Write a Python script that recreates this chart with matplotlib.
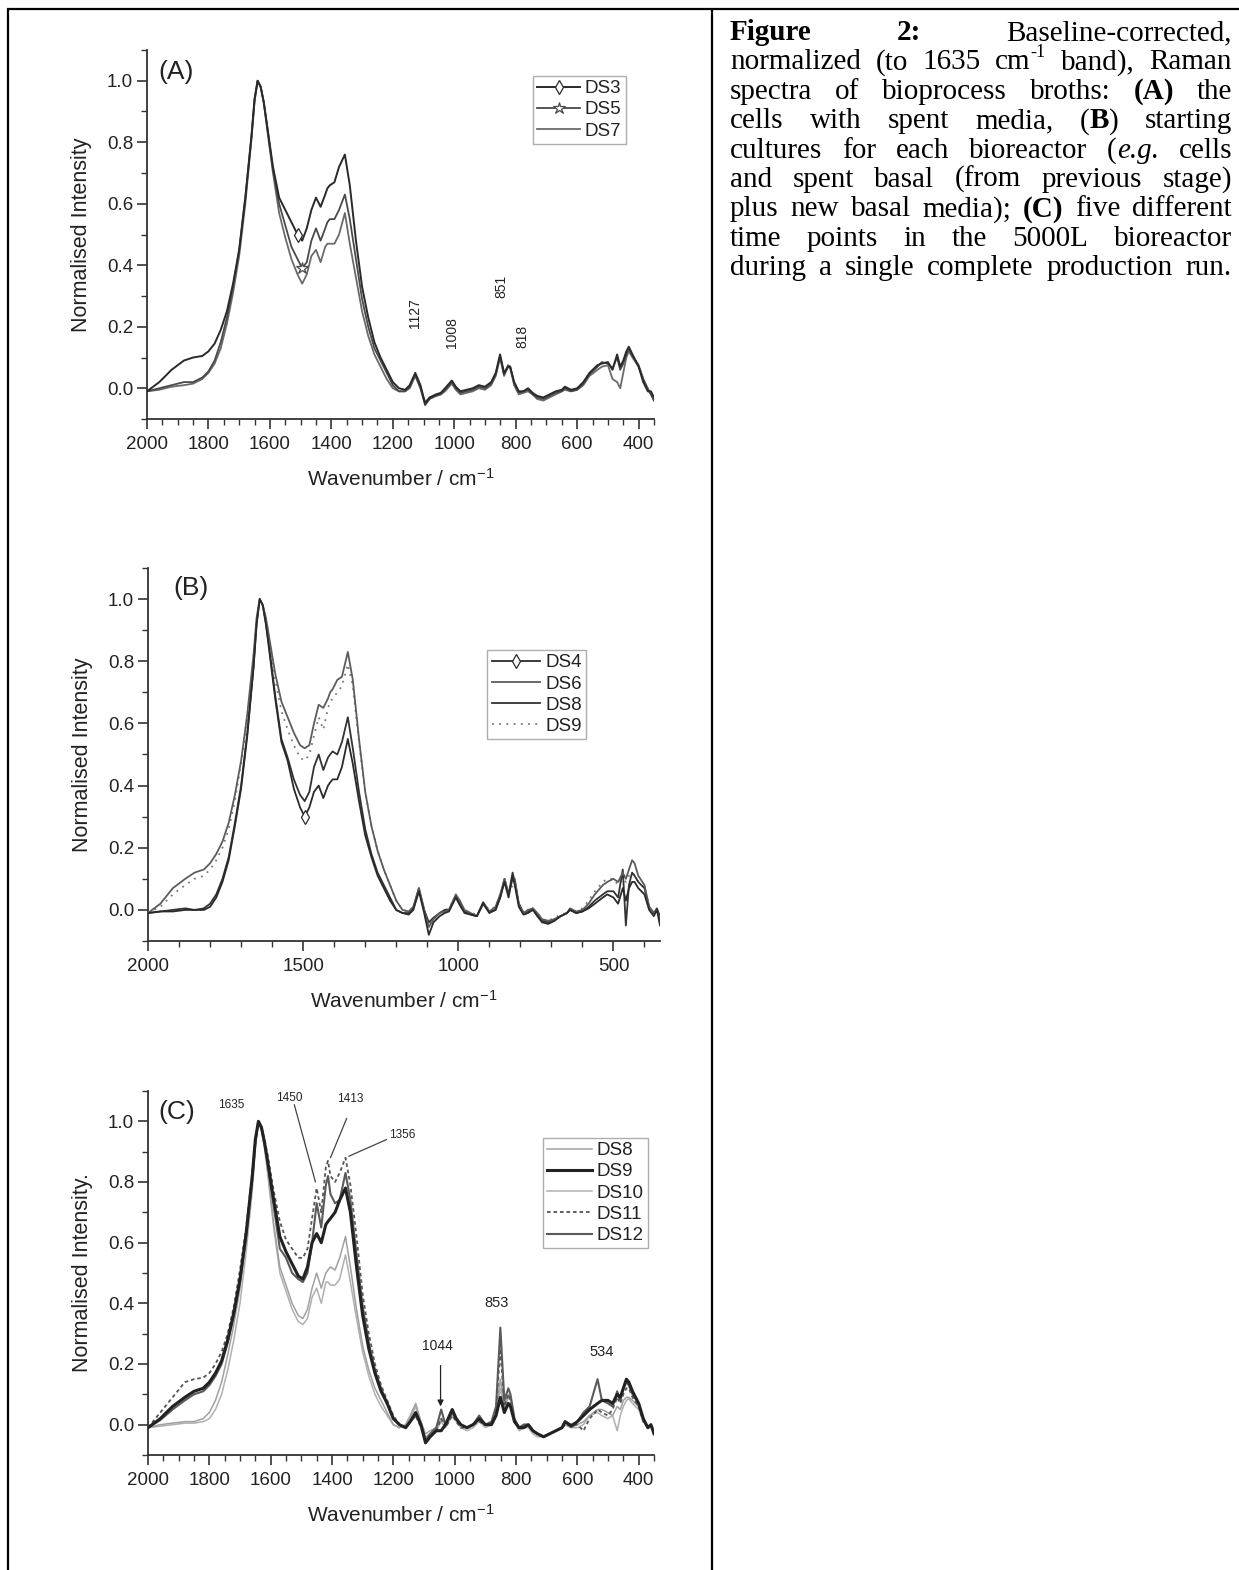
import numpy as np
import matplotlib
matplotlib.use("Agg")
import matplotlib.pyplot as plt
from matplotlib.ticker import MultipleLocator
from matplotlib.transforms import IdentityTransform
from matplotlib.lines import Line2D

plt.rcParams['font.family'] = ['Liberation Sans', 'DejaVu Sans']
plt.rcParams['mathtext.fontset'] = 'custom'
plt.rcParams['mathtext.rm'] = 'Liberation Sans'
plt.rcParams['mathtext.it'] = 'Liberation Sans:italic'
plt.rcParams['mathtext.bf'] = 'Liberation Sans:bold'

# ---------------- data ----------------
wavenumber = [2000, 1960, 1920, 1880, 1850, 1820, 1800, 1780, 1760, 1740,
              1720, 1700, 1680, 1660, 1650, 1640, 1630, 1620, 1610, 1590,
              1570, 1550, 1530, 1510, 1495, 1480, 1465, 1450, 1435, 1420,
              1413, 1405, 1390, 1375, 1356, 1340, 1320, 1300, 1280, 1260,
              1240, 1220, 1200, 1180, 1160, 1145, 1127, 1110, 1095, 1080,
              1060, 1044, 1030, 1008, 995, 980, 960, 940, 920, 900,
              880, 865, 851, 838, 825, 818, 805, 790, 775, 760,
              745, 730, 710, 690, 670, 650, 640, 620, 600, 580,
              560, 534, 520, 500, 485, 470, 460, 450, 440, 432,
              420, 400, 385, 370, 360, 350]

# Panel A
A_DS3 = [-0.01, 0.02, 0.06, 0.09, 0.10, 0.105, 0.12, 0.145, 0.19, 0.25,
         0.34, 0.45, 0.62, 0.82, 0.94, 1.0, 0.98, 0.93, 0.86, 0.72,
         0.62, 0.58, 0.54, 0.50, 0.48, 0.52, 0.58, 0.62, 0.59, 0.63,
         0.65, 0.66, 0.67, 0.72, 0.76, 0.66, 0.48, 0.33, 0.23, 0.15,
         0.10, 0.06, 0.02, 0.0, -0.005, 0.01, 0.05, 0.01, -0.05, -0.03,
         -0.02, -0.015, 0.0, 0.025, 0.005, -0.01, -0.005, 0.0, 0.01, 0.005,
         0.02, 0.05, 0.11, 0.05, 0.07, 0.07, 0.02, -0.01, -0.01, 0.0,
         -0.015, -0.025, -0.03, -0.02, -0.01, -0.005, 0.005, -0.005, 0.0, 0.02,
         0.05, 0.075, 0.08, 0.085, 0.06, 0.11, 0.07, 0.09, 0.12, 0.135,
         0.11, 0.07, 0.02, -0.01, -0.01, -0.03]
A_DS5 = [-0.01, 0.0, 0.01, 0.02, 0.02, 0.035, 0.055, 0.09, 0.15, 0.23,
         0.33, 0.45, 0.62, 0.82, 0.94, 1.0, 0.98, 0.93, 0.86, 0.71,
         0.60, 0.53, 0.46, 0.42, 0.39, 0.41, 0.48, 0.52, 0.48, 0.52,
         0.54, 0.55, 0.55, 0.58, 0.63, 0.55, 0.42, 0.29, 0.20, 0.13,
         0.09, 0.05, 0.01, -0.01, -0.01, 0.005, 0.045, 0.0, -0.055, -0.035,
         -0.025, -0.02, -0.005, 0.02, 0.0, -0.015, -0.01, -0.005, 0.005, 0.0,
         0.015, 0.045, 0.105, 0.045, 0.075, 0.07, 0.015, -0.015, -0.01, -0.005,
         -0.02, -0.03, -0.035, -0.025, -0.015, -0.01, 0.0, -0.01, -0.005, 0.015,
         0.045, 0.07, 0.085, 0.08, 0.065, 0.10, 0.06, 0.08, 0.11, 0.13,
         0.105, 0.075, 0.03, -0.005, -0.02, -0.04]
A_DS7 = [-0.01, -0.005, 0.005, 0.01, 0.015, 0.03, 0.05, 0.08, 0.13, 0.21,
         0.31, 0.43, 0.60, 0.81, 0.93, 1.0, 0.98, 0.93, 0.85, 0.70,
         0.57, 0.49, 0.42, 0.37, 0.34, 0.37, 0.43, 0.45, 0.41, 0.46,
         0.47, 0.47, 0.47, 0.50, 0.57, 0.47, 0.36, 0.25, 0.17, 0.11,
         0.07, 0.03, 0.0, -0.01, -0.01, 0.0, 0.04, 0.0, -0.045, -0.03,
         -0.025, -0.02, -0.01, 0.015, -0.005, -0.02, -0.015, -0.01, 0.0, -0.005,
         0.01, 0.04, 0.10, 0.04, 0.07, 0.065, 0.01, -0.02, -0.015, -0.01,
         -0.02, -0.035, -0.04, -0.03, -0.02, -0.01, -0.005, -0.01, -0.005, 0.01,
         0.04, 0.06, 0.07, 0.075, 0.03, 0.02, 0.0, 0.05, 0.10, 0.12,
         0.10, 0.07, 0.03, 0.0, -0.02, -0.04]

# Panel B
B_DS4 = [-0.01, -0.005, -0.005, 0.0, 0.0, 0.0, 0.01, 0.04, 0.09, 0.16,
         0.27, 0.39, 0.56, 0.78, 0.92, 1.0, 0.98, 0.92, 0.84, 0.68,
         0.54, 0.48, 0.39, 0.33, 0.30, 0.33, 0.38, 0.40, 0.36, 0.40,
         0.41, 0.42, 0.42, 0.46, 0.55, 0.47, 0.35, 0.24, 0.17, 0.11,
         0.07, 0.03, 0.0, -0.01, -0.015, 0.0, 0.06, -0.01, -0.08, -0.04,
         -0.02, -0.01, -0.005, 0.04, 0.015, -0.01, -0.015, -0.02, 0.02, -0.01,
         0.0, 0.04, 0.09, 0.04, 0.11, 0.08, 0.01, -0.015, -0.01, 0.0,
         -0.02, -0.04, -0.045, -0.035, -0.02, -0.01, 0.0, -0.01, -0.005, 0.005,
         0.02, 0.04, 0.05, 0.04, 0.02, 0.07, 0.03, 0.07, 0.09, 0.09,
         0.07, 0.05, 0.0, -0.02, 0.0, -0.05]
B_DS6 = [-0.01, 0.02, 0.07, 0.10, 0.12, 0.13, 0.15, 0.18, 0.22, 0.28,
         0.37, 0.48, 0.63, 0.82, 0.94, 1.0, 0.98, 0.94, 0.88, 0.76,
         0.67, 0.62, 0.57, 0.53, 0.52, 0.53, 0.60, 0.66, 0.65, 0.68,
         0.70, 0.71, 0.74, 0.75, 0.83, 0.74, 0.55, 0.38, 0.27, 0.19,
         0.13, 0.08, 0.03, 0.0, -0.005, 0.01, 0.07, 0.0, -0.055, -0.03,
         -0.01, -0.005, 0.0, 0.05, 0.03, 0.0, -0.01, -0.02, 0.02, -0.005,
         0.01, 0.05, 0.10, 0.05, 0.10, 0.10, 0.02, -0.01, 0.0, 0.005,
         -0.01, -0.03, -0.035, -0.03, -0.02, -0.01, 0.005, -0.005, 0.0, 0.02,
         0.05, 0.08, 0.09, 0.10, 0.09, 0.12, 0.10, 0.13, 0.16, 0.15,
         0.11, 0.08, 0.01, -0.01, 0.0, -0.03]
B_DS8 = [-0.01, -0.005, 0.0, 0.005, 0.0, 0.005, 0.02, 0.05, 0.10, 0.17,
         0.28, 0.40, 0.57, 0.78, 0.92, 1.0, 0.98, 0.92, 0.85, 0.69,
         0.55, 0.49, 0.42, 0.37, 0.35, 0.38, 0.46, 0.50, 0.45, 0.49,
         0.50, 0.51, 0.50, 0.54, 0.62, 0.52, 0.38, 0.26, 0.18, 0.12,
         0.08, 0.04, 0.0, -0.01, -0.01, 0.005, 0.07, 0.0, -0.04, -0.025,
         -0.01, 0.0, 0.0, 0.045, 0.02, -0.005, -0.015, -0.02, 0.025, -0.005,
         0.0, 0.04, 0.10, 0.05, 0.12, 0.09, 0.02, -0.01, -0.005, 0.005,
         -0.02, -0.035, -0.04, -0.03, -0.02, -0.01, 0.0, -0.01, -0.005, 0.01,
         0.03, 0.05, 0.06, 0.06, 0.04, 0.13, -0.05, 0.08, 0.12, 0.11,
         0.09, 0.07, 0.01, -0.01, 0.005, -0.02]
B_DS9 = [-0.01, 0.01, 0.05, 0.08, 0.10, 0.11, 0.13, 0.16, 0.20, 0.26,
         0.35, 0.47, 0.62, 0.81, 0.93, 1.0, 0.98, 0.93, 0.87, 0.74,
         0.64, 0.58, 0.53, 0.49, 0.48, 0.50, 0.56, 0.62, 0.58, 0.65,
         0.67, 0.68, 0.70, 0.72, 0.79, 0.72, 0.54, 0.38, 0.27, 0.19,
         0.13, 0.08, 0.03, 0.0, -0.005, 0.01, 0.06, 0.0, -0.05, -0.03,
         -0.01, 0.0, 0.005, 0.045, 0.025, 0.0, -0.01, -0.015, 0.02, 0.0,
         0.01, 0.05, 0.09, 0.05, 0.08, 0.09, 0.02, -0.01, 0.0, 0.005,
         -0.01, -0.03, -0.035, -0.025, -0.015, -0.01, 0.005, -0.005, 0.005, 0.03,
         0.06, 0.09, 0.10, 0.10, 0.08, 0.10, 0.09, 0.11, 0.12, 0.11,
         0.09, 0.07, 0.01, -0.01, 0.0, -0.02]

# Panel C
C_DS8 = [-0.01, 0.0, 0.005, 0.01, 0.01, 0.02, 0.04, 0.08, 0.14, 0.23,
         0.33, 0.45, 0.61, 0.80, 0.93, 1.0, 0.97, 0.92, 0.84, 0.66,
         0.52, 0.46, 0.40, 0.36, 0.35, 0.38, 0.45, 0.50, 0.45, 0.50,
         0.51, 0.52, 0.51, 0.55, 0.62, 0.52, 0.38, 0.26, 0.18, 0.12,
         0.08, 0.04, 0.0, -0.01, 0.0, 0.03, 0.07, 0.01, -0.03, -0.02,
         -0.01, 0.02, 0.0, 0.04, 0.02, 0.0, -0.01, 0.0, 0.02, 0.0,
         0.0, 0.04, 0.15, 0.06, 0.10, 0.09, 0.02, -0.01, 0.0, 0.0,
         -0.02, -0.03, -0.04, -0.03, -0.02, -0.01, 0.0, -0.01, 0.0, 0.01,
         0.03, 0.05, 0.05, 0.04, 0.03, 0.06, 0.05, 0.08, 0.09, 0.09,
         0.08, 0.06, 0.01, -0.01, 0.0, -0.03]
C_DS9 = [-0.01, 0.02, 0.06, 0.09, 0.11, 0.12, 0.14, 0.17, 0.21, 0.28,
         0.37, 0.48, 0.63, 0.82, 0.94, 1.0, 0.98, 0.93, 0.87, 0.74,
         0.62, 0.57, 0.53, 0.49, 0.48, 0.52, 0.60, 0.63, 0.60, 0.66,
         0.67, 0.68, 0.70, 0.74, 0.78, 0.70, 0.52, 0.36, 0.25, 0.17,
         0.11, 0.07, 0.02, 0.0, -0.01, 0.01, 0.04, 0.0, -0.06, -0.04,
         -0.02, -0.02, 0.0, 0.05, 0.02, 0.0, -0.01, 0.0, 0.02, 0.0,
         0.0, 0.03, 0.09, 0.04, 0.07, 0.06, 0.01, -0.01, -0.01, 0.0,
         -0.02, -0.03, -0.04, -0.03, -0.02, -0.01, 0.01, -0.005, 0.01, 0.03,
         0.05, 0.07, 0.08, 0.08, 0.07, 0.10, 0.09, 0.12, 0.15, 0.14,
         0.11, 0.07, 0.02, -0.01, 0.0, -0.03]
C_DS10 = [-0.01, -0.005, 0.0, 0.005, 0.005, 0.01, 0.02, 0.05, 0.10, 0.18,
          0.28, 0.40, 0.57, 0.77, 0.91, 1.0, 0.97, 0.91, 0.83, 0.65,
          0.50, 0.44, 0.38, 0.34, 0.33, 0.35, 0.42, 0.45, 0.40, 0.47,
          0.47, 0.46, 0.46, 0.48, 0.56, 0.47, 0.35, 0.24, 0.16, 0.10,
          0.06, 0.03, 0.0, -0.01, 0.0, 0.02, 0.06, 0.0, -0.04, -0.03,
          -0.02, 0.01, -0.01, 0.03, 0.01, -0.01, -0.02, -0.01, 0.01, -0.01,
          0.0, 0.03, 0.12, 0.05, 0.09, 0.08, 0.01, -0.02, -0.01, -0.01,
          -0.03, -0.04, -0.04, -0.03, -0.02, -0.01, 0.0, -0.01, -0.01, 0.0,
          0.03, 0.04, 0.03, 0.02, 0.03, -0.02, 0.03, 0.06, 0.08, 0.085,
          0.07, 0.05, 0.01, -0.01, 0.0, -0.03]
C_DS11 = [-0.01, 0.04, 0.09, 0.14, 0.15, 0.155, 0.17, 0.20, 0.24, 0.30,
          0.39, 0.51, 0.65, 0.83, 0.94, 1.0, 0.98, 0.94, 0.89, 0.77,
          0.67, 0.61, 0.58, 0.55, 0.55, 0.58, 0.68, 0.78, 0.70, 0.85,
          0.87, 0.82, 0.80, 0.83, 0.88, 0.79, 0.62, 0.43, 0.30, 0.20,
          0.13, 0.08, 0.03, 0.0, -0.01, 0.01, 0.03, -0.01, -0.05, -0.04,
          -0.02, 0.02, -0.01, 0.03, 0.01, -0.01, -0.01, 0.0, 0.01, 0.0,
          0.0, 0.05, 0.25, 0.06, 0.10, 0.08, 0.01, -0.01, 0.0, 0.0,
          -0.02, -0.03, -0.04, -0.03, -0.02, -0.01, 0.0, 0.0, 0.0, -0.02,
          0.02, 0.05, 0.04, 0.03, 0.05, 0.09, 0.07, 0.10, 0.12, 0.12,
          0.09, 0.06, 0.01, -0.01, 0.0, -0.03]
C_DS12 = [-0.01, 0.015, 0.05, 0.08, 0.10, 0.11, 0.13, 0.16, 0.20, 0.27,
          0.36, 0.47, 0.62, 0.81, 0.93, 1.0, 0.98, 0.93, 0.86, 0.72,
          0.58, 0.55, 0.50, 0.48, 0.47, 0.50, 0.60, 0.73, 0.65, 0.79,
          0.82, 0.76, 0.73, 0.74, 0.83, 0.74, 0.56, 0.39, 0.27, 0.18,
          0.12, 0.07, 0.02, 0.0, -0.01, 0.01, 0.03, 0.0, -0.05, -0.03,
          -0.01, 0.05, 0.0, 0.04, 0.02, 0.0, -0.01, 0.0, 0.03, 0.0,
          0.01, 0.06, 0.32, 0.08, 0.12, 0.10, 0.02, -0.01, 0.0, 0.0,
          -0.02, -0.03, -0.04, -0.03, -0.02, -0.01, 0.01, 0.0, 0.01, 0.04,
          0.06, 0.15, 0.08, 0.07, 0.06, 0.11, 0.08, 0.12, 0.14, 0.13,
          0.10, 0.07, 0.02, -0.01, 0.0, -0.03]

labels_A = ["DS3", "DS5", "DS7"]
labels_B = ["DS4", "DS6", "DS8", "DS9"]
labels_C = ["DS8", "DS9", "DS10", "DS11", "DS12"]
ann_A = [("1127", 1129, 0.245), ("1008", 1007, 0.18), ("851", 846, 0.33), ("818", 779, 0.17)]

# ---------------- figure ----------------
W_PX, H_PX = 1239, 1570
fig = plt.figure(figsize=(W_PX / 100, H_PX / 100), dpi=100)

def px_axes(left, top, right, bottom):
    return fig.add_axes([left / W_PX, 1 - bottom / H_PX, (right - left) / W_PX, (bottom - top) / H_PX])

AX_COL = '#333333'
TXT_COL = '#222222'

def style_axes(ax, major_x, minor_x, ylabel):
    for s in ['top', 'right']:
        ax.spines[s].set_visible(False)
    for s in ['left', 'bottom']:
        ax.spines[s].set_color(AX_COL)
        ax.spines[s].set_linewidth(1.3)
    ax.set_xlim(2000, 350)
    ax.set_ylim(-0.1, 1.1)
    ax.xaxis.set_major_locator(MultipleLocator(major_x))
    ax.xaxis.set_minor_locator(MultipleLocator(minor_x))
    ax.yaxis.set_major_locator(MultipleLocator(0.2))
    ax.yaxis.set_minor_locator(MultipleLocator(0.1))
    ax.yaxis.set_major_formatter(matplotlib.ticker.FormatStrFormatter('%.1f'))
    ax.tick_params(which='major', direction='out', length=7, width=1.2, color=AX_COL,
                   labelsize=13.5, labelcolor=TXT_COL)
    ax.tick_params(axis='y', which='major', pad=3)
    ax.tick_params(axis='x', which='major', pad=5)
    ax.tick_params(which='minor', direction='out', length=4, width=1.0, color=AX_COL)
    ax.set_xlabel("Wavenumber / cm$^{-1}$", fontsize=15, color=TXT_COL, labelpad=11)
    ax.set_ylabel(ylabel, fontsize=15.5, color=TXT_COL, labelpad=11)

def add_legend(ax, handles, labels, anchor, hl):
    leg = ax.legend(handles, labels, loc='upper right', bbox_to_anchor=anchor, fontsize=13.5,
                    frameon=True, fancybox=False, edgecolor='#999999', handlelength=hl,
                    handletextpad=0.25, labelspacing=0.22, borderpad=0.22, borderaxespad=0)
    leg.get_frame().set_linewidth(1.0)
    for t in leg.get_texts():
        t.set_color(TXT_COL)
    return leg

x = np.array(wavenumber)

# ---- Panel A ----
axA = px_axes(147, 50, 654, 419)
style_axes(axA, 200, 50, "Normalised Intensity")
axA.plot(x, A_DS7, color='#6a6a6a', lw=1.3, label=labels_A[2], zorder=2)
axA.plot(x, A_DS5, color='#4a4a4a', lw=1.3, marker='*', ms=9, mfc='white', mec='#4a4a4a',
         mew=0.9, markevery=[24], label=labels_A[1], zorder=3)
axA.plot(x, A_DS3, color='#2a2a2a', lw=1.4, marker='d', ms=7, mfc='white', mec='#2a2a2a',
         mew=0.9, markevery=[23], label=labels_A[0], zorder=4)
hA, lA = axA.get_legend_handles_labels()
order = [2, 1, 0]
add_legend(axA, [hA[i] for i in order], [lA[i] for i in order], (0.944, 0.93), 2.3)
axA.text(1905, 1.03, "(A)", fontsize=19, color=TXT_COL, ha='center', va='center')
for t, xx, yy in ann_A:
    axA.text(xx, yy, t, rotation=90, fontsize=10, color=TXT_COL, ha='center', va='center')

# ---- Panel B ----
axB = px_axes(148, 568, 660, 941)
style_axes(axB, 500, 100, "Normalised Intensity")
axB.plot(x, B_DS9, color='#7a7a7a', lw=1.3, ls=(0, (1, 3)), label=labels_B[3], zorder=2)
axB.plot(x, B_DS8, color='#333333', lw=1.3, label=labels_B[2], zorder=3)
axB.plot(x, B_DS6, color='#5c5c5c', lw=1.3, label=labels_B[1], zorder=3)
axB.plot(x, B_DS4, color='#2a2a2a', lw=1.3, marker='d', ms=7, mfc='white', mec='#2a2a2a',
         mew=0.9, markevery=[24], label=labels_B[0], zorder=4)
hB, lB = axB.get_legend_handles_labels()
order = [3, 2, 1, 0]
add_legend(axB, [hB[i] for i in order], [lB[i] for i in order], (0.855, 0.78), 2.6)
axB.text(1860, 1.035, "(B)", fontsize=19, color=TXT_COL, ha='center', va='center')

# ---- Panel C ----
axC = px_axes(148, 1091, 654, 1455)
style_axes(axC, 200, 50, "Normalised Intensity.")
axC.plot(x, C_DS10, color='#b0b0b0', lw=1.1, label=labels_C[2], zorder=2)
axC.plot(x, C_DS8, color='#a0a0a0', lw=1.1, label=labels_C[0], zorder=2)
axC.plot(x, C_DS11, color='#555555', lw=1.3, ls=(0, (2, 1.6)), label=labels_C[3], zorder=3)
axC.plot(x, C_DS12, color='#5a5a5a', lw=1.5, label=labels_C[4], zorder=3)
axC.plot(x, C_DS9, color='#222222', lw=2.2, label=labels_C[1], zorder=4)
hC, lC = axC.get_legend_handles_labels()
order = [1, 4, 0, 2, 3]
add_legend(axC, [hC[i] for i in order], [lC[i] for i in order], (0.988, 0.871), 2.4)
axC.text(1905, 1.03, "(C)", fontsize=19, color=TXT_COL, ha='center', va='center')

lead = dict(arrowstyle='-', color='#444444', lw=0.9, shrinkA=0, shrinkB=0)
axC.text(1730, 1.055, "1635", fontsize=8.5, color=TXT_COL, ha='center', va='center')
axC.text(1538, 1.078, "1450", fontsize=8.5, color=TXT_COL, ha='center', va='center')
axC.annotate("", xy=(1454, 0.80), xytext=(1523, 1.055), arrowprops=lead)
axC.text(1342, 1.072, "1413", fontsize=8.5, color=TXT_COL, ha='center', va='center')
axC.annotate("", xy=(1405, 0.88), xytext=(1352, 1.01), arrowprops=lead)
axC.text(1170, 0.955, "1356", fontsize=8.5, color=TXT_COL, ha='center', va='center')
axC.annotate("", xy=(1345, 0.885), xytext=(1222, 0.94), arrowprops=lead)
axC.text(1056, 0.26, "1044", fontsize=10, color=TXT_COL, ha='center', va='center')
axC.annotate("", xy=(1046, 0.06), xytext=(1046, 0.195),
             arrowprops=dict(arrowstyle='-|>', color=TXT_COL, lw=0.9, mutation_scale=9,
                             shrinkA=0, shrinkB=0))
axC.text(864, 0.40, "853", fontsize=10.5, color=TXT_COL, ha='center', va='center')
axC.text(521, 0.24, "534", fontsize=10.5, color=TXT_COL, ha='center', va='center')

# ---------------- table frame ----------------
frame_kw = dict(color='black', lw=1.6, transform=IdentityTransform(), solid_capstyle='butt')
def ypx(v):
    return H_PX - v
fig.add_artist(Line2D([7, W_PX], [ypx(9), ypx(9)], **frame_kw))
fig.add_artist(Line2D([8, 8], [ypx(9), ypx(H_PX)], **frame_kw))
fig.add_artist(Line2D([712, 712], [ypx(9), ypx(H_PX)], **frame_kw))

# ---------------- caption (justified) ----------------
N = {}
B = {'weight': 'bold'}
I = {'style': 'italic'}
S = {'sup': True}
caption_lines = [
    [[("Figure", B)], [("2:", B)], [("Baseline-corrected,", N)]],
    [[("normalized", N)], [("(to", N)], [("1635", N)], [("cm", N), ("-1", S)], [("band),", N)], [("Raman", N)]],
    [[("spectra", N)], [("of", N)], [("bioprocess", N)], [("broths:", N)], [("(A)", B)], [("the", N)]],
    [[("cells", N)], [("with", N)], [("spent", N)], [("media,", N)], [("(", N), ("B", B), (")", N)], [("starting", N)]],
    [[("cultures", N)], [("for", N)], [("each", N)], [("bioreactor", N)], [("(", N), ("e.g.", I)], [("cells", N)]],
    [[("and", N)], [("spent", N)], [("basal", N)], [("(from", N)], [("previous", N)], [("stage)", N)]],
    [[("plus", N)], [("new", N)], [("basal", N)], [("media);", N)], [("(C)", B)], [("five", N)], [("different", N)]],
    [[("time", N)], [("points", N)], [("in", N)], [("the", N)], [("5000L", N)], [("bioreactor", N)]],
    [[("during", N)], [("a", N)], [("single", N)], [("complete", N)], [("production", N)], [("run.", N)]],
]

renderer = fig.canvas.get_renderer()
CAP_FS = 21
CAP_X0, CAP_X1 = 730, 1232
BASE0, PITCH = 40, 29.4
for i, words in enumerate(caption_lines):
    base = ypx(BASE0 + i * PITCH)
    word_items = []
    total = 0.0
    for w in words:
        segs = []
        wsum = 0.0
        for s, kw in w:
            sup = kw.get('sup', False)
            fs = CAP_FS * 0.62 if sup else CAP_FS
            t = fig.text(0, 0, s, fontsize=fs, family='Liberation Serif',
                         fontweight=kw.get('weight', 'normal'), fontstyle=kw.get('style', 'normal'),
                         transform=IdentityTransform(), va='baseline', ha='left', color='black')
            wd = t.get_window_extent(renderer=renderer).width
            segs.append((t, wsum, sup))
            wsum += wd + (1.0 if sup else 0.0)
        word_items.append((segs, wsum))
        total += wsum
    gap = (CAP_X1 - CAP_X0 - total) / max(len(words) - 1, 1)
    xc = CAP_X0
    for segs, wsum in word_items:
        for t, off, sup in segs:
            t.set_x(xc + off)
            t.set_y(base + (CAP_FS * 100 / 72 * 0.42 if sup else 0))
        xc += wsum + gap

fig.savefig("out.png", dpi=100)
